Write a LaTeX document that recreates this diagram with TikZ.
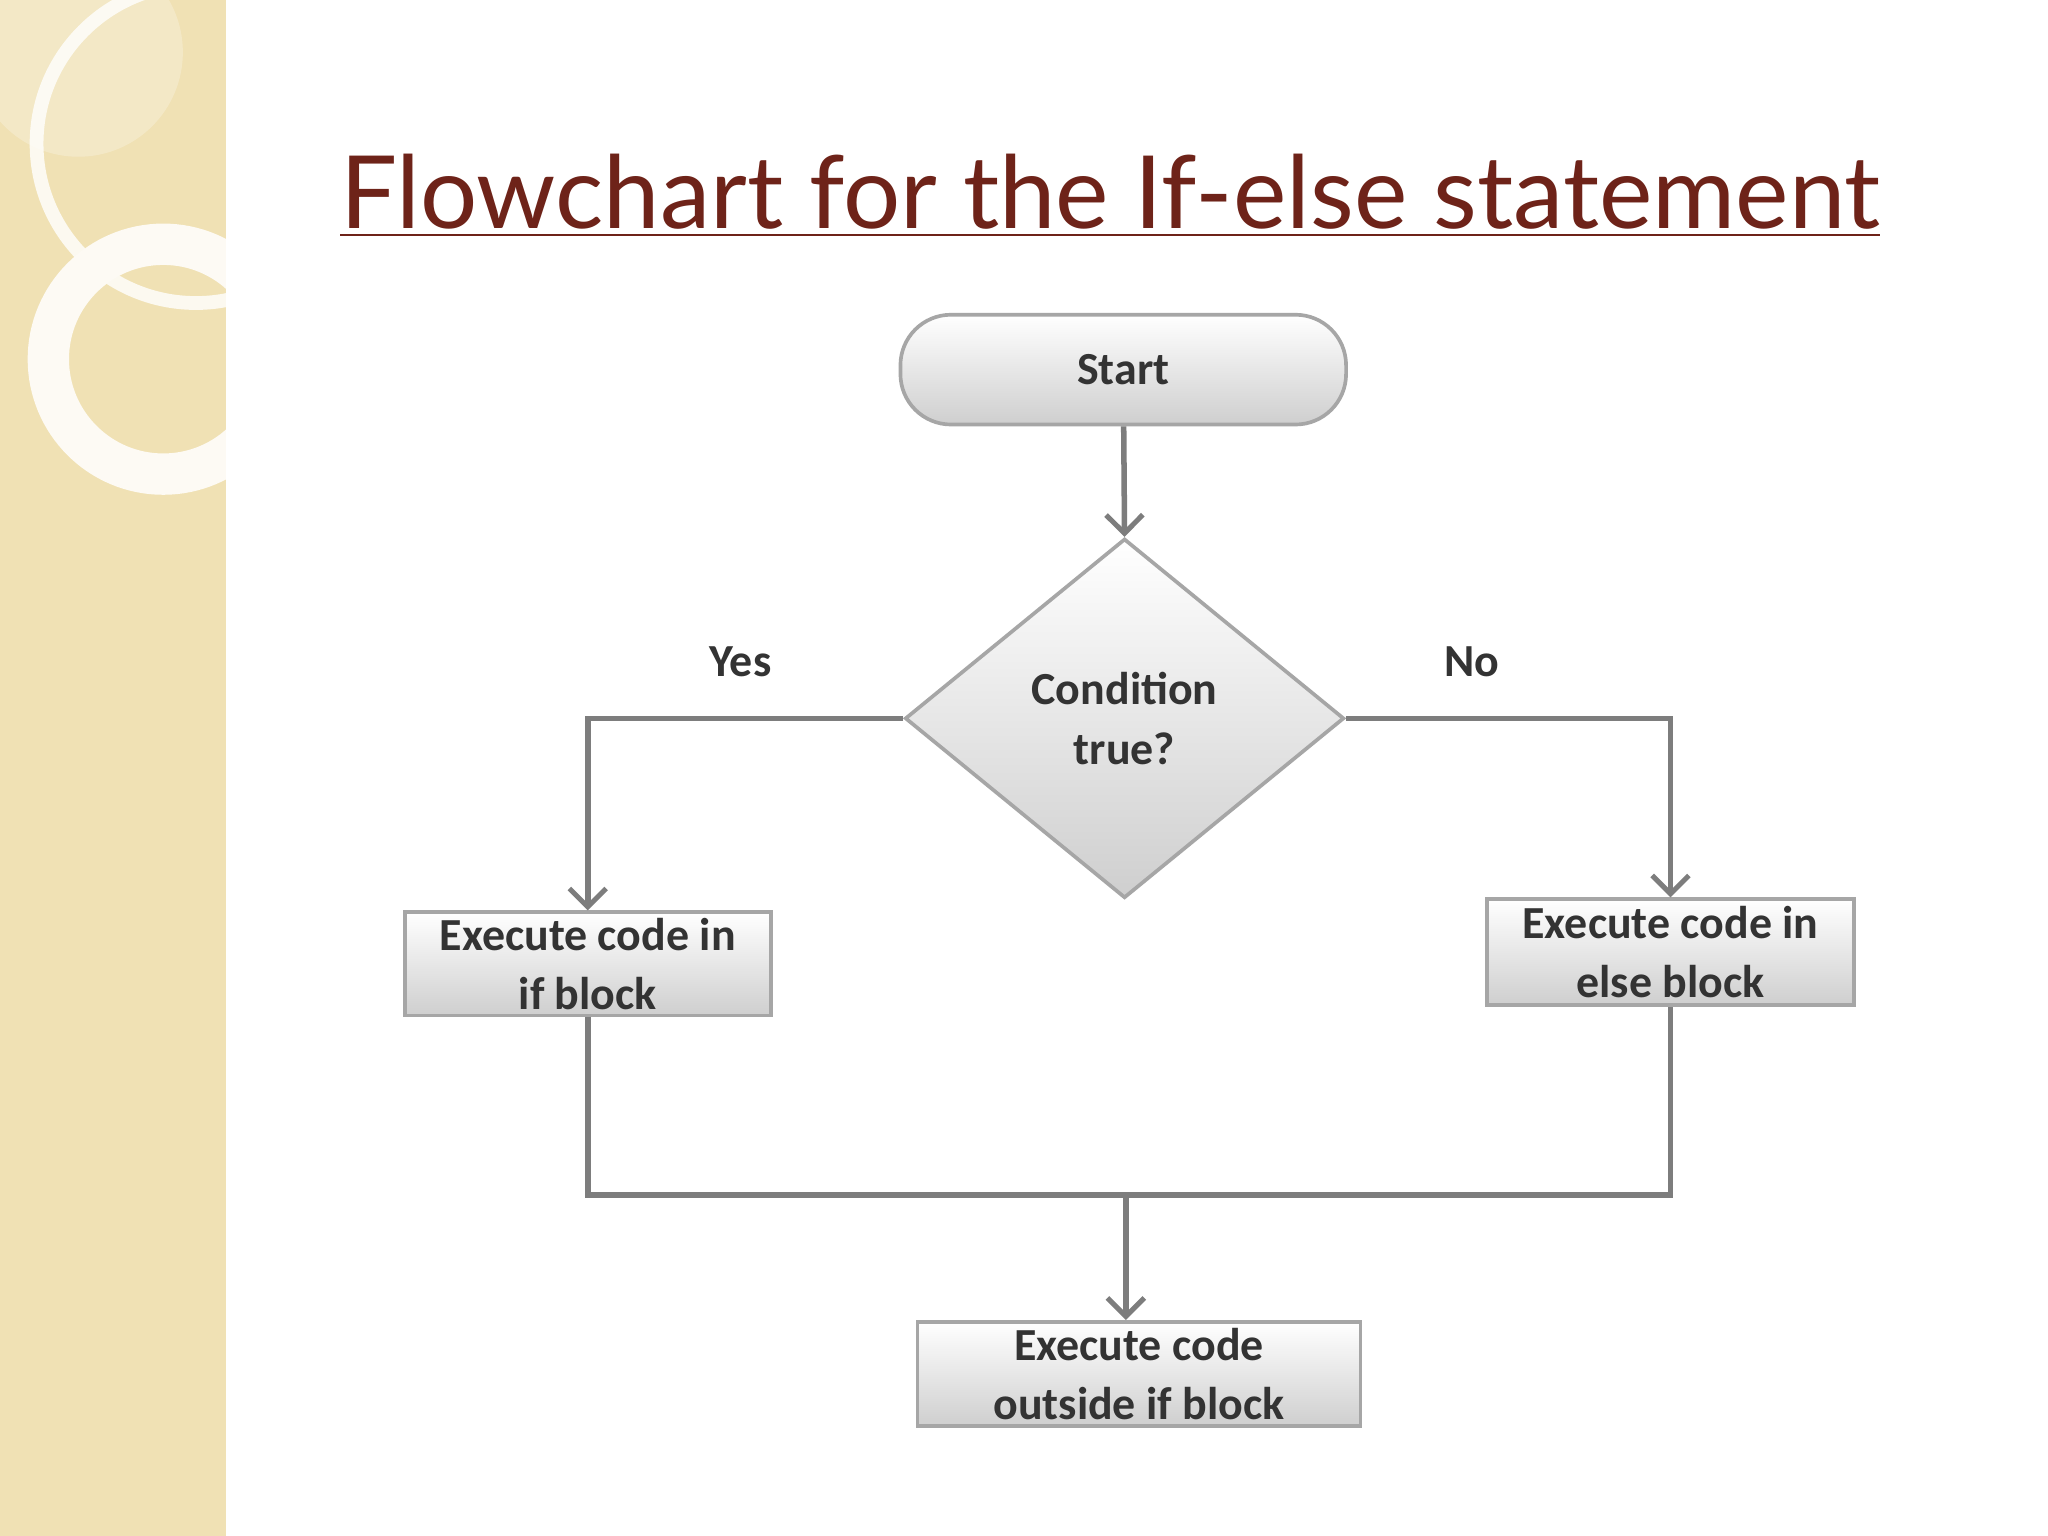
\documentclass[tikz,border=0pt]{standalone}
\usepackage{fontspec}
\setmainfont{Carlito}
\newfontfamily\titlefont{Lato}
\usetikzlibrary{shapes.geometric,arrows.meta}
\definecolor{beige}{RGB}{240,225,180}
\definecolor{titlered}{RGB}{110,35,25}
\definecolor{lingray}{RGB}{125,125,125}
\tikzset{
 box/.style={draw=gray!70,line width=0.8pt,top color=white,bottom color=gray!38,font=\bfseries\fontsize{10}{13}\selectfont,align=center,text=black!80},
 conn/.style={draw=lingray,line width=1.2pt},
 arr/.style={conn,-{Straight Barb[length=4pt,width=8pt,line width=1.1pt]}},
 lbl/.style={font=\bfseries\fontsize{10}{12}\selectfont,text=black!80}
}
\begin{document}
\begin{tikzpicture}[x=0.01cm,y=-0.01cm]
\useasboundingbox (0,0) rectangle (1568,1176);
\fill[white] (0,0) rectangle (1568,1176);
\fill[beige] (0,0) rectangle (173,1176);
\begin{scope}
\clip (0,0) rectangle (173,1176);
\fill[white,opacity=0.25] (60,40) circle (80);
\draw[white,line width=3pt,opacity=0.8] (150,110) circle (122);
\draw[white!85!beige,line width=9pt] (125,275) circle (88);
\end{scope}
\node[text=titlered,font=\titlefont\fontsize{22}{26}\selectfont] (title) at (850,150) {\underline{Flowchart for the If-else statement}};
\node[box,rounded corners=11pt,minimum width=3.41cm,minimum height=0.84cm] (start) at (860,283) {Start};
\node[box,diamond,minimum width=3.36cm,minimum height=2.75cm,inner sep=0pt,aspect=1.22] (cond) at (861,550) {Condition\\true?};
\node[box,minimum width=2.8cm,minimum height=0.79cm,inner sep=1pt] (ifb) at (450,738) {Execute code in\\if block};
\node[box,minimum width=2.81cm,minimum height=0.81cm,inner sep=1pt] (elseb) at (1279,729) {Execute code in\\else block};
\node[box,minimum width=3.39cm,minimum height=0.8cm,inner sep=1pt] (outb) at (872,1052) {Execute code\\outside if block};
\coordinate (j) at (862,915);
\draw[arr] (start) -- (cond.north);
\draw[arr] (cond.west) -| (ifb.north);
\draw[arr] (cond.east) -| (elseb.north);
\draw[conn] (ifb.south) |- (j) -| (elseb.south);
\draw[arr] (j) -- (outb.north -| j);
\node[lbl] (yes) at (567,507) {Yes};
\node[lbl] (no) at (1127,507) {No};
\end{tikzpicture}
\end{document}
